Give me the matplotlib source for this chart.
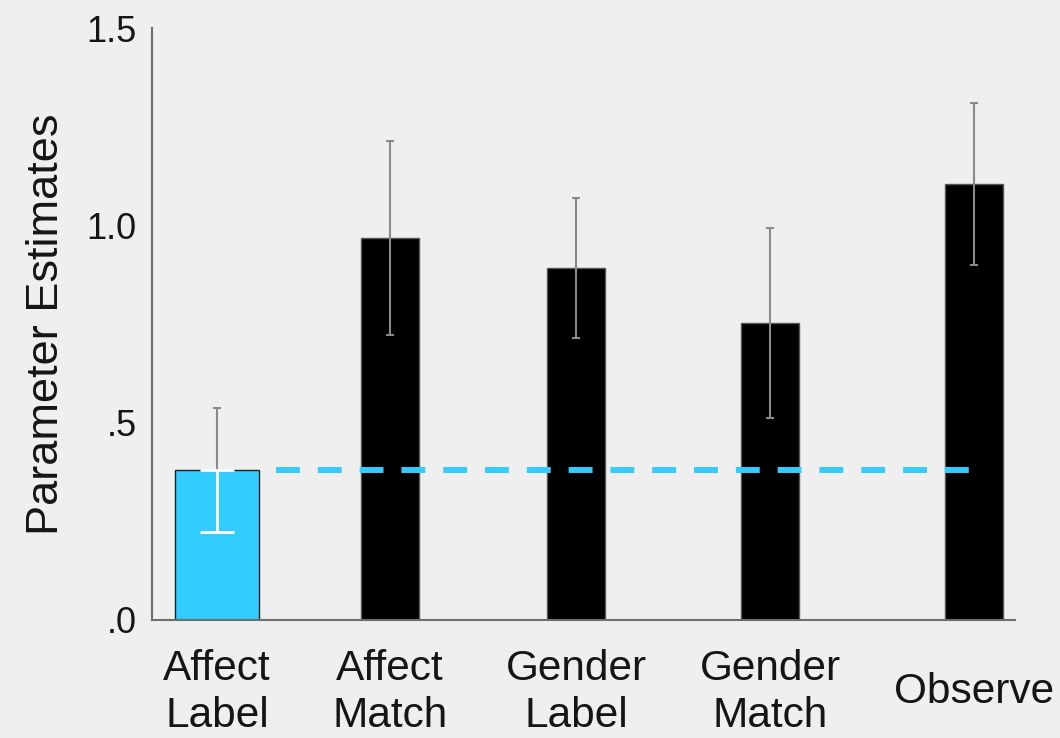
import matplotlib.pyplot as plt
import numpy as np

plt.rcParams['font.family'] = ['Liberation Sans', 'DejaVu Sans']

# data
conditions = ["Affect\nLabel", "Affect\nMatch", "Gender\nLabel", "Gender\nMatch", "Observe"]
means = [0.38, 0.968, 0.892, 0.752, 1.105]
errors = [0.157, 0.245, 0.178, 0.24, 0.205]
ytick_vals = [0.0, 0.5, 1.0, 1.5]
ytick_labels = [".0", ".5", "1.0", "1.5"]

# layout (bar centres and widths, axis units)
xpos = np.array([0.335, 1.227, 2.186, 3.186, 4.237])
widths = [0.428, 0.299, 0.299, 0.299, 0.299]
bar_colors = ["#33ccff", "black", "black", "black", "black"]
bg = "#efefef"
txt = "#151515"

fig = plt.figure(figsize=(10.6, 7.38), dpi=100, facecolor=bg)
ax = fig.add_axes([0.1434, 0.16, 0.8141, 0.802])
ax.set_facecolor(bg)

ax.bar(xpos, means, width=widths, color=bar_colors, edgecolor=["#222222"] + ["#555555"] * 4,
       linewidth=1, zorder=2)

# gray error bars
ax.errorbar(xpos, means, yerr=errors, fmt='none', ecolor="#8a8a8a", elinewidth=1.5,
            capsize=3, capthick=1.5, zorder=3)
# white lower whisker on the blue bar
ax.errorbar(xpos[0], means[0] - errors[0] / 2, yerr=errors[0] / 2, fmt='none',
            ecolor="white", elinewidth=2, capsize=12, capthick=2, zorder=4)

# dashed reference line at the Affect Label level
ax.plot([0.639, 4.227], [means[0], means[0]], color="#33ccff", linewidth=4.3,
        dashes=(4, 3), solid_capstyle='butt', dash_capstyle='butt', zorder=3)

ax.set_xlim(0, 4.448)
ax.set_ylim(0, 1.5)
ax.set_yticks(ytick_vals)
ax.set_yticklabels(ytick_labels, fontsize=26, color=txt)
ax.set_xticks(xpos)
ax.set_xticklabels(conditions, fontsize=30.5, color=txt, va='center', linespacing=1.22)
ax.tick_params(axis='y', length=0, pad=11)
ax.tick_params(axis='x', length=0, pad=52)
ax.set_ylabel("Parameter Estimates", fontsize=32.5, color=txt, labelpad=14)

for side in ['top', 'right']:
    ax.spines[side].set_visible(False)
for side in ['left', 'bottom']:
    ax.spines[side].set_color("#6e6e6e")
    ax.spines[side].set_linewidth(1.5)

plt.savefig("out.png", dpi=100, facecolor=bg)
